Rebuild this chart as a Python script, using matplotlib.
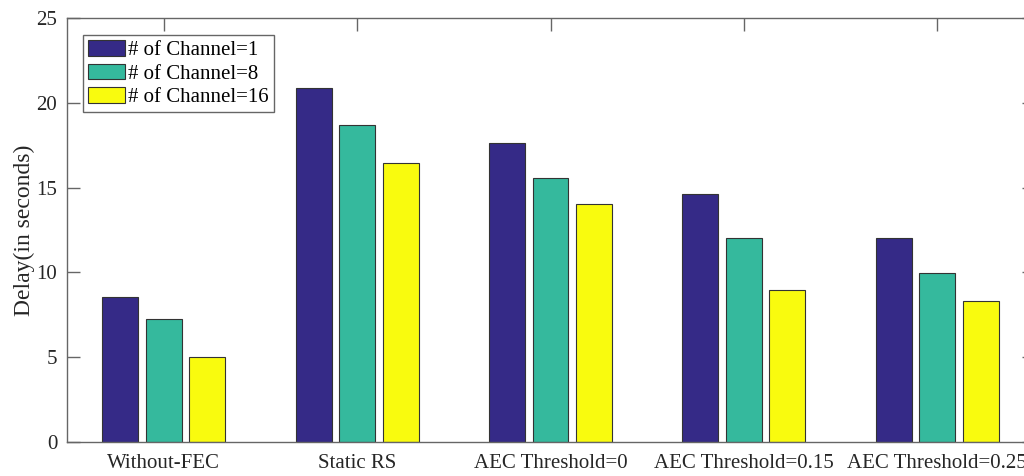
import matplotlib
matplotlib.use("Agg")
import matplotlib.pyplot as plt
import numpy as np

categories = ["Without-FEC", "Static RS", "AEC Threshold=0", "AEC Threshold=0.15", "AEC Threshold=0.25"]
series_labels = ["# of Channel=1", "# of Channel=8", "# of Channel=16"]
ch1 = [8.55, 20.87, 17.63, 14.62, 12.03]
ch8 = [7.25, 18.69, 15.57, 12.03, 9.96]
ch16 = [5.01, 16.45, 14.03, 8.96, 8.31]
yticks = [0, 5, 10, 15, 20, 25]

colors = ["#352a87", "#35b99d", "#f9fb0e"]

plt.rcParams['font.family'] = ['Liberation Serif', 'DejaVu Serif']

fig = plt.figure(figsize=(10.24, 4.76), dpi=100)
ax = fig.add_axes([67/1024, 34/476, (1034-67)/1024, 424/476])

x = np.arange(1, len(categories) + 1)
width = 0.186
offset = 0.225
for i, (vals, lab, c) in enumerate(zip([ch1, ch8, ch16], series_labels, colors)):
    ax.bar(x + (i - 1) * offset, vals, width, color=c, edgecolor="#333333",
           linewidth=0.8, label=lab, zorder=2)

ax.set_xlim(0.5, 5.5)
ax.set_ylim(0, 25)
ax.set_xticks(x)
ax.set_xticklabels(categories, fontsize=15, color="#262626")
ax.set_yticks(yticks)
ax.set_yticklabels([str(t) for t in yticks], fontsize=15, color="#262626")
ax.set_ylabel("Delay(in seconds)", fontsize=17, color="#262626", labelpad=1)

for s in ax.spines.values():
    s.set_color("#666666")
    s.set_linewidth(1.0)
ax.tick_params(axis='both', direction='in', length=9, width=1.0, color="#666666",
               top=True, right=True)
ax.tick_params(axis='y', pad=7)
ax.tick_params(axis='x', pad=8.5)

leg = ax.legend(loc='upper left', bbox_to_anchor=(0.0165, 0.96), borderaxespad=0,
                fontsize=15, handlelength=1.75, handleheight=0.8, handletextpad=0.15,
                labelspacing=0.15, borderpad=0.25, fancybox=False, framealpha=1)
leg.get_frame().set_edgecolor("#666666")
leg.get_frame().set_linewidth(1.0)

fig.savefig("out.png", dpi=100)
